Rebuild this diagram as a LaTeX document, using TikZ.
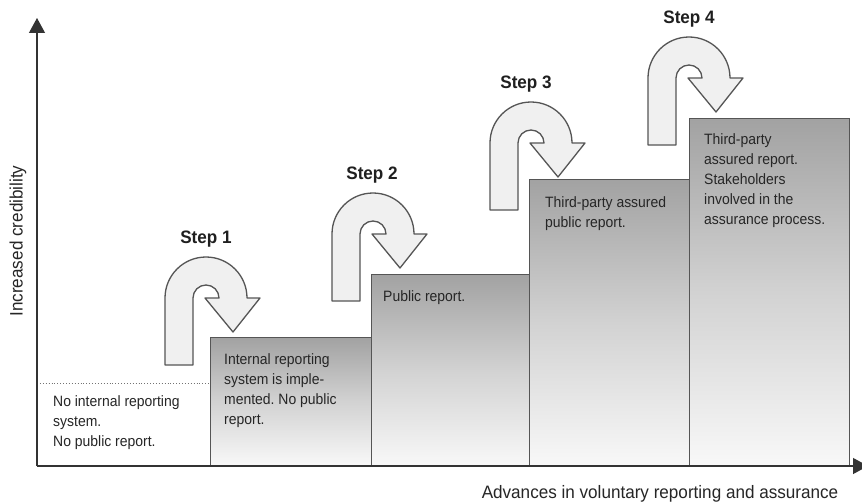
\documentclass[tikz,border=0pt]{standalone}
\usepackage{fontspec}
\setmainfont{Liberation Sans}
\newfontfamily\bodyfont[FakeStretch=0.93]{Liberation Sans}
\newfontfamily\axisfont[FakeStretch=0.95]{Liberation Sans}
\usetikzlibrary{arrows.meta}
\frenchspacing
\definecolor{inkgray}{HTML}{262626}
\definecolor{edgegray}{HTML}{555555}
\definecolor{arrowfill}{HTML}{F0F0F0}
\definecolor{boxtop}{HTML}{A2A2A2}
\definecolor{boxmid}{HTML}{D2D2D2}
\definecolor{boxbot}{HTML}{F8F8F8}
\tikzset{
 stepbox/.style={draw=edgegray, line width=1pt, top color=boxtop, bottom color=boxbot, middle color=boxmid, anchor=south west, inner sep=0pt},
 boxtext/.style={anchor=north west, inner sep=0pt, align=left, text=inkgray, font=\bodyfont\fontsize{15}{20}\selectfont},
 steplabel/.style={inner sep=0pt, text=black!88, font=\axisfont\bfseries\fontsize{18}{20}\selectfont},
 axislabel/.style={inner sep=0pt, text=inkgray, font=\axisfont\fontsize{18}{20}\selectfont},
 axisline/.style={draw=black!80, line width=1.2pt, -{Triangle[length=15pt,width=16pt]}},
 uturnstyle/.style={draw=edgegray, line width=1.3pt, fill=arrowfill, line join=round},
 uturn/.pic={\path[uturnstyle] (-41,-67) -- (-41,0) arc[start angle=180,end angle=0,radius=41pt] -- (54,0) -- (27,-34) -- (-1,0) -- (13,0) arc[start angle=0,end angle=180,radius=13pt] -- (-13,-67) -- cycle;}
}
\begin{document}
\begin{tikzpicture}[x=1pt,y=1pt]
\useasboundingbox (0,0) rectangle (862,-503);
\clip (0,0) rectangle (862,-503);
\fill[white] (0,0) rectangle (862,-503);
% boxes
\node[stepbox, minimum width=161pt, minimum height=128pt] (box1) at (210,-466) {};
\node[stepbox, minimum width=158pt, minimum height=191pt] (box2) at (371,-466) {};
\node[stepbox, minimum width=160pt, minimum height=286pt] (box3) at (529,-466) {};
\node[stepbox, minimum width=160pt, minimum height=347pt] (box4) at (689,-466) {};
% dotted baseline level
\coordinate (d0) at (37,-383);
\draw[dotted, black!55, line width=0.9pt] (d0) -- (d0 -| box1.west);
% axes
\coordinate (O) at (37,-466);
\coordinate (ytop) at (37,-18);
\coordinate (xend) at (868,-466);
\draw[axisline] (O) -- (ytop);
\draw[axisline] (O) -- (xend);
% texts
\node[boxtext] (t0) at (53,-395) {No internal reporting\\system.\\No public report.};
\node[boxtext] (t1) at (224,-353) {Internal reporting\\system is imple-\\mented. No public\\report.};
\node[boxtext] (t2) at (383,-290) {Public report.};
\node[boxtext] (t3) at (545,-196) {Third-party assured\\public report.};
\node[boxtext] (t4) at (704,-133) {Third-party\\assured report.\\Stakeholders\\involved in the\\assurance process.};
% u-turn arrows
\pic at (206,-298) {uturn};
\pic at (373,-234) {uturn};
\pic at (531,-143) {uturn};
\pic at (689,-78) {uturn};
% step labels
\node[steplabel] (s1) at (206,-239) {Step 1};
\node[steplabel] (s2) at (372,-175) {Step 2};
\node[steplabel] (s3) at (526,-84) {Step 3};
\node[steplabel] (s4) at (689,-19) {Step 4};
% axis labels
\node[axislabel, rotate=90] (ylab) at (18,-241) {Increased credibility};
\node[axislabel, anchor=base] (xlab) at (660,-498) {Advances in voluntary reporting and assurance};
\end{tikzpicture}
\end{document}
